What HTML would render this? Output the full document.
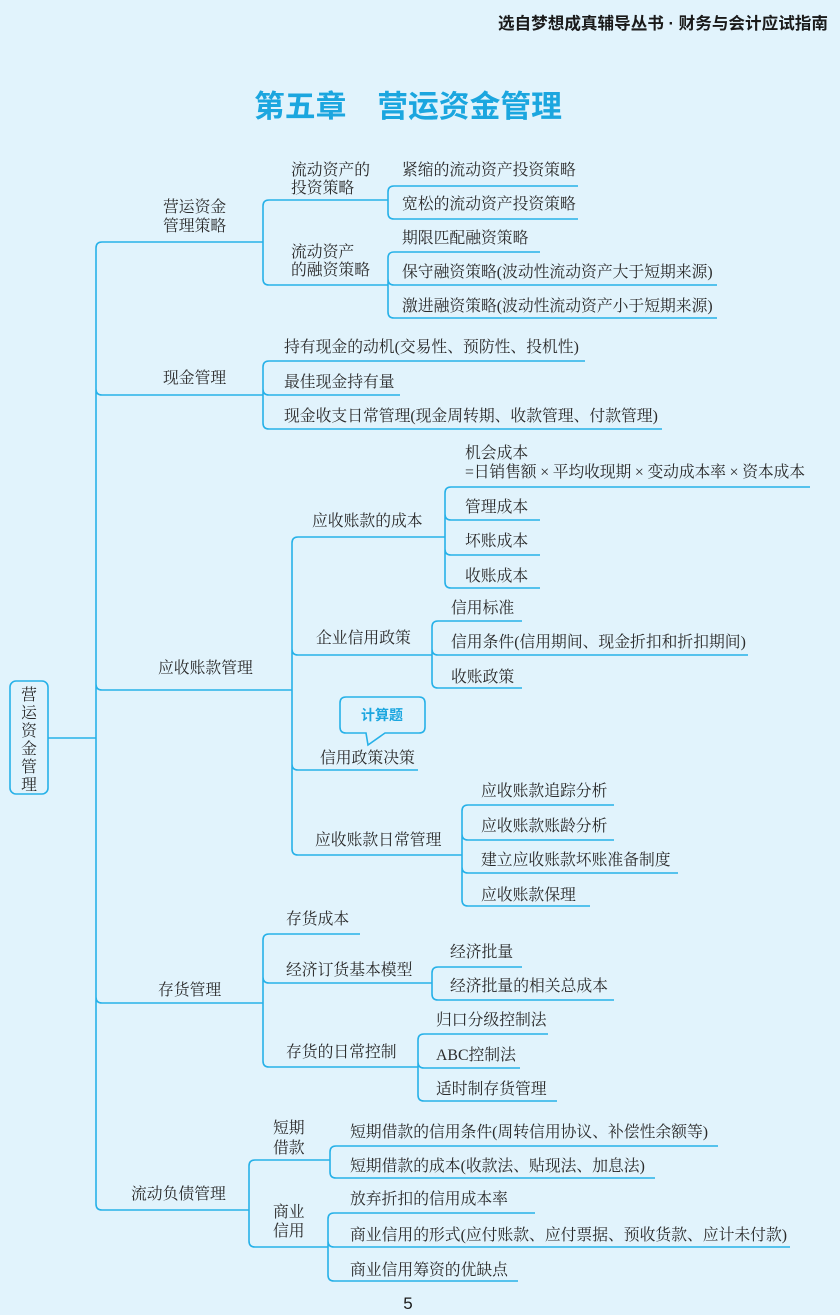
<!DOCTYPE html>
<html><head><meta charset="utf-8"><style>
html,body{margin:0;padding:0;background:#e1f3fc}
svg{display:block}
.t{font-family:"Liberation Serif","Noto Serif CJK SC",serif;font-size:15.8px;fill:#2a2a2a}
.l{fill:none;stroke:#27b1e8;stroke-width:1.6}
</style></head><body>
<svg width="840" height="1315" viewBox="0 0 840 1315" xmlns="http://www.w3.org/2000/svg">
<rect width="840" height="1315" fill="#e1f3fc"/>
<text x="828" y="29" text-anchor="end" style="font-family:'Liberation Sans','Noto Sans CJK SC',sans-serif;font-size:16.6px;font-weight:bold;fill:#1a1a1a">选自梦想成真辅导丛书 · 财务与会计应试指南</text>
<text x="408" y="117" text-anchor="middle" style="font-family:'Liberation Sans','Noto Sans CJK SC',sans-serif;font-size:30.8px;font-weight:bold;fill:#1ba6df">第五章　营运资金管理</text>

<!-- root -->
<rect x="10" y="681" width="38" height="113" rx="6" class="l"/>
<text class="t" x="29" y="700" text-anchor="middle"><tspan x="29" dy="0">营</tspan><tspan x="29" dy="18">运</tspan><tspan x="29" dy="18">资</tspan><tspan x="29" dy="18">金</tspan><tspan x="29" dy="18">管</tspan><tspan x="29" dy="18">理</tspan></text>
<path class="l" d="M48,738 H96"/>

<!-- main bracket x=96 -->
<path class="l" d="M96,248 V1204 M96,248 Q96,242 102,242 H263 M96,389 Q96,395 102,395 H263 M96,684 Q96,690 102,690 H292 M96,997 Q96,1003 102,1003 H263 M96,1204 Q96,1210 102,1210 H249"/>
<text class="t" x="163" y="212">营运资金</text><text class="t" x="163" y="231">管理策略</text>
<text class="t" x="163" y="383">现金管理</text>
<text class="t" x="158" y="673">应收账款管理</text>
<text class="t" x="158" y="995">存货管理</text>
<text class="t" x="131" y="1199">流动负债管理</text>

<!-- 营运资金管理策略 -->
<path class="l" d="M263,206 V279 M263,206 Q263,200 269,200 H388 M263,279 Q263,285 269,285 H388"/>
<text class="t" x="291" y="175">流动资产的</text><text class="t" x="291" y="193">投资策略</text>
<text class="t" x="291" y="257">流动资产</text><text class="t" x="291" y="275">的融资策略</text>
<path class="l" d="M388,192 V213 M388,192 Q388,186 394,186 H578 M388,213 Q388,219 394,219 H578"/>
<text class="t" x="402" y="175">紧缩的流动资产投资策略</text>
<text class="t" x="402" y="209">宽松的流动资产投资策略</text>
<path class="l" d="M388,258 V312 M388,258 Q388,252 394,252 H540 M388,279 Q388,285 394,285 H717 M388,312 Q388,318 394,318 H717"/>
<text class="t" x="402" y="243">期限匹配融资策略</text>
<text class="t" x="402" y="277">保守融资策略(波动性流动资产大于短期来源)</text>
<text class="t" x="402" y="311">激进融资策略(波动性流动资产小于短期来源)</text>

<!-- 现金管理 -->
<path class="l" d="M263,367 V423 M263,367 Q263,361 269,361 H585 M263,389 Q263,395 269,395 H400 M263,423 Q263,429 269,429 H662"/>
<text class="t" x="284" y="352">持有现金的动机(交易性、预防性、投机性)</text>
<text class="t" x="284" y="387">最佳现金持有量</text>
<text class="t" x="284" y="421">现金收支日常管理(现金周转期、收款管理、付款管理)</text>

<!-- 应收账款管理 -->
<path class="l" d="M292,543 V849 M292,543 Q292,537 298,537 H445 M292,649 Q292,655 298,655 H432 M292,764 Q292,770 298,770 H418 M292,849 Q292,855 298,855 H462"/>
<text class="t" x="312" y="526">应收账款的成本</text>
<text class="t" x="316" y="643">企业信用政策</text>
<text class="t" x="320" y="763">信用政策决策</text>
<text class="t" x="315" y="845">应收账款日常管理</text>

<path class="l" d="M445,493 V582 M445,493 Q445,487 451,487 H810 M445,514 Q445,520 451,520 H540 M445,549 Q445,555 451,555 H540 M445,582 Q445,588 451,588 H540"/>
<text class="t" x="465" y="458">机会成本</text>
<text class="t" x="465" y="477" textLength="340">=日销售额 × 平均收现期 × 变动成本率 × 资本成本</text>
<text class="t" x="465" y="512">管理成本</text>
<text class="t" x="465" y="546">坏账成本</text>
<text class="t" x="465" y="581">收账成本</text>

<path class="l" d="M432,627 V682 M432,627 Q432,621 438,621 H522 M432,649 Q432,655 438,655 H748 M432,682 Q432,688 438,688 H522"/>
<text class="t" x="451" y="613">信用标准</text>
<text class="t" x="451" y="647">信用条件(信用期间、现金折扣和折扣期间)</text>
<text class="t" x="451" y="682">收账政策</text>

<path class="l" d="M346,697 H419 Q425,697 425,703 V727 Q425,733 419,733 H385 L368,745 L366,733 H346 Q340,733 340,727 V703 Q340,697 346,697 Z" fill="#e1f3fc"/>
<text x="382" y="720" text-anchor="middle" style="font-family:'Liberation Sans','Noto Sans CJK SC',sans-serif;font-size:14px;font-weight:bold;fill:#1ba6df">计算题</text>

<path class="l" d="M462,811 V900 M462,811 Q462,805 468,805 H614 M462,834 Q462,840 468,840 H614 M462,867 Q462,873 468,873 H678 M462,900 Q462,906 468,906 H590"/>
<text class="t" x="481" y="796">应收账款追踪分析</text>
<text class="t" x="481" y="831">应收账款账龄分析</text>
<text class="t" x="481" y="865">建立应收账款坏账准备制度</text>
<text class="t" x="481" y="900">应收账款保理</text>

<!-- 存货管理 -->
<path class="l" d="M263,940 V1061 M263,940 Q263,934 269,934 H360 M263,977 Q263,983 269,983 H432 M263,1061 Q263,1067 269,1067 H418"/>
<text class="t" x="286" y="924">存货成本</text>
<text class="t" x="286" y="975">经济订货基本模型</text>
<text class="t" x="286" y="1057">存货的日常控制</text>
<path class="l" d="M432,973 V994 M432,973 Q432,967 438,967 H522 M432,994 Q432,1000 438,1000 H614"/>
<text class="t" x="450" y="957">经济批量</text>
<text class="t" x="450" y="991">经济批量的相关总成本</text>
<path class="l" d="M418,1040 V1095 M418,1040 Q418,1034 424,1034 H548 M418,1062 Q418,1068 424,1068 H520 M418,1095 Q418,1101 424,1101 H557"/>
<text class="t" x="436" y="1025">归口分级控制法</text>
<text class="t" x="436" y="1060">ABC控制法</text>
<text class="t" x="436" y="1094">适时制存货管理</text>

<!-- 流动负债管理 -->
<path class="l" d="M249,1166 V1241 M249,1166 Q249,1160 255,1160 H330 M249,1241 Q249,1247 255,1247 H328"/>
<text class="t" x="273" y="1133">短期</text><text class="t" x="273" y="1153">借款</text>
<text class="t" x="273" y="1217">商业</text><text class="t" x="273" y="1236">信用</text>
<path class="l" d="M330,1152 V1172 M330,1152 Q330,1146 336,1146 H718 M330,1172 Q330,1178 336,1178 H655"/>
<text class="t" x="350" y="1137">短期借款的信用条件(周转信用协议、补偿性余额等)</text>
<text class="t" x="350" y="1171">短期借款的成本(收款法、贴现法、加息法)</text>
<path class="l" d="M328,1219 V1275 M328,1219 Q328,1213 334,1213 H535 M328,1241 Q328,1247 334,1247 H790 M328,1275 Q328,1281 334,1281 H518"/>
<text class="t" x="350" y="1204">放弃折扣的信用成本率</text>
<text class="t" x="350" y="1240">商业信用的形式(应付账款、应付票据、预收货款、应计未付款)</text>
<text class="t" x="350" y="1275">商业信用筹资的优缺点</text>

<text x="408" y="1309" text-anchor="middle" style="font-family:'Liberation Sans',sans-serif;font-size:17px;fill:#1a1a1a">5</text>
</svg>
</body></html>
